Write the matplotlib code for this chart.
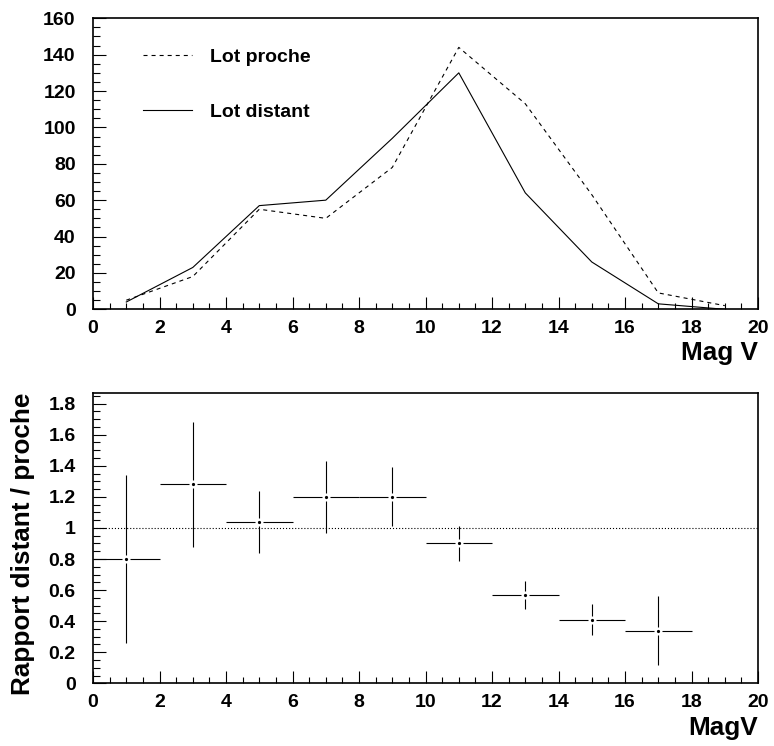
import numpy as np
import matplotlib
matplotlib.use('Agg')
import matplotlib.pyplot as plt
from matplotlib.ticker import MultipleLocator

# Magnitudes V (centres de bins)
mag = [1, 3, 5, 7, 9, 11, 13, 15, 17, 19]
lot_proche = [5, 18, 55, 50, 78, 144, 113, 63, 9, 2]
lot_distant = [4, 23, 57, 60, 94, 130, 64, 26, 3, 0]

# Rapport distant / proche
mag_rapport = [1, 3, 5, 7, 9, 11, 13, 15, 17]
rapport = [0.80, 1.28, 1.04, 1.20, 1.20, 0.90, 0.57, 0.41, 0.34]
rapport_err = [0.54, 0.40, 0.20, 0.23, 0.19, 0.11, 0.09, 0.10, 0.22]
demi_bin = 1.0

plt.rcParams['font.family'] = ['Liberation Sans', 'DejaVu Sans']
plt.rcParams['font.weight'] = 'bold'
plt.rcParams['lines.scale_dashes'] = False

fig = plt.figure(figsize=(7.74, 7.46), dpi=100)
ax1 = fig.add_axes([0.1202, 0.5854, 0.8592, 0.3901])
ax2 = fig.add_axes([0.1202, 0.0840, 0.8592, 0.3895])


def style_axes(ax, ymajor, yminor):
    for s in ax.spines.values():
        s.set_linewidth(1.2)
    ax.set_xlim(0, 20)
    ax.xaxis.set_major_locator(MultipleLocator(2))
    ax.xaxis.set_minor_locator(MultipleLocator(0.5))
    ax.yaxis.set_major_locator(MultipleLocator(ymajor))
    ax.yaxis.set_minor_locator(MultipleLocator(yminor))
    ax.tick_params(axis='both', which='both', direction='in', top=False, right=False, width=0.8)
    ax.tick_params(axis='x', which='major', length=8.5, pad=7.5, labelsize=14)
    ax.tick_params(axis='x', which='minor', length=4)
    ax.tick_params(axis='y', which='major', length=9, pad=12.5, labelsize=14)
    ax.tick_params(axis='y', which='minor', length=5)
    for lab in ax.get_xticklabels() + ax.get_yticklabels():
        lab.set_fontweight('bold')


# Panneau du haut
ax1.plot(mag, lot_proche, color='k', lw=0.8, linestyle=(0, (2.9, 2.9)), label='Lot proche')
ax1.plot(mag, lot_distant, color='k', lw=0.8, label='Lot distant')
ax1.set_ylim(0, 160)
style_axes(ax1, 20, 5)
ax1.set_xlabel('Mag V', loc='right', fontsize=18.8, fontweight='bold')
ax1.xaxis.set_label_coords(1.0, -0.108)
ax1.legend(loc='upper left', bbox_to_anchor=(0.064, 0.923), frameon=False,
           handlelength=2.5, handletextpad=0.95, labelspacing=1.9,
           borderaxespad=0, prop={'weight': 'bold', 'size': 14})

# Panneau du bas
ax2.axhline(1.0, color='k', lw=0.8, linestyle=(0, (0.8, 1.4)))
ax2.errorbar(mag_rapport, rapport, xerr=demi_bin, yerr=rapport_err, fmt='none',
             ecolor='k', elinewidth=0.8, capsize=0, zorder=2)
ax2.plot(mag_rapport, rapport, 's', ms=5.8, mfc='white', mec='none', zorder=3)
ax2.plot(mag_rapport, rapport, 'o', ms=2.3, color='k', mec='none', zorder=4)
ax2.set_ylim(0, 1.87)
style_axes(ax2, 0.2, 0.05)
ax2.set_yticks([0, 0.2, 0.4, 0.6, 0.8, 1.0, 1.2, 1.4, 1.6, 1.8])
ax2.set_yticklabels(['0', '0.2', '0.4', '0.6', '0.8', '1', '1.2', '1.4', '1.6', '1.8'], fontweight='bold')
ax2.set_xlabel('MagV', loc='right', fontsize=18.8, fontweight='bold')
ax2.xaxis.set_label_coords(1.0, -0.114)
ax2.set_ylabel('Rapport distant / proche', loc='top', fontsize=18.8, fontweight='bold')
ax2.yaxis.set_label_coords(-0.087, 1.0)

fig.savefig('out.png', dpi=100)
